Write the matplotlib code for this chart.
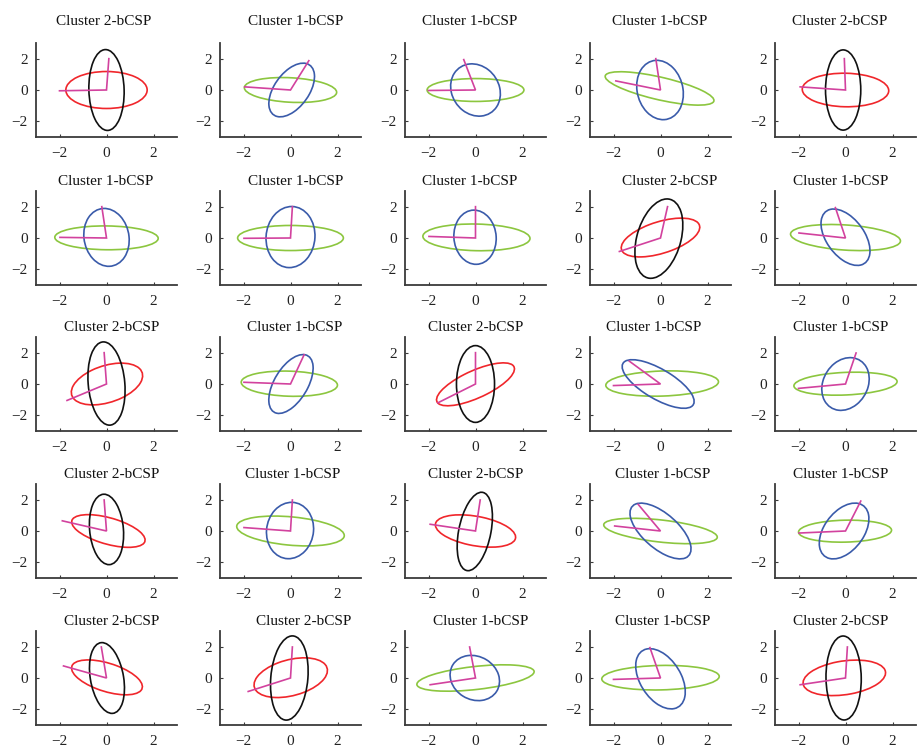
import matplotlib
matplotlib.use("Agg")
import matplotlib.pyplot as plt
from matplotlib.patches import Ellipse

plt.rcParams['font.family'] = ['Liberation Serif', 'DejaVu Serif']

# ---------------- data ----------------
cluster = [2, 1, 1, 1, 2,
           1, 1, 1, 2, 1,
           2, 1, 2, 1, 1,
           2, 1, 2, 1, 1,
           2, 2, 1, 1, 2]

# wide ellipse (red for cluster 2, green for cluster 1): semi-major, semi-minor, angle(deg), cx, cy
wide_a = [1.73, 1.97, 2.06, 2.45, 1.84, 2.20, 2.25, 2.28, 1.85, 2.35, 1.70, 2.05, 2.00, 2.40, 2.20,
          1.70, 2.31, 1.77, 2.45, 1.98, 1.67, 1.69, 2.53, 2.50, 1.80]
wide_b = [1.18, 0.78, 0.73, 0.70, 1.07, 0.76, 0.80, 0.85, 0.95, 0.80, 1.09, 0.80, 0.79, 0.80, 0.72,
          0.80, 0.90, 0.92, 0.70, 0.70, 0.85, 1.09, 0.73, 0.78, 1.06]
wide_ang = [0, -5, 0, -20, -2, -1, 0, -2, 30, -6, 36, -3, 37.5, 3, 4,
            -26.5, -8.5, -18, -10, 2, -30, 30, 10, 2, 16]
wide_cx = [0, 0, 0, -0.04, 0, 0, 0, 0.04, 0, 0, 0.02, -0.05, 0, 0.07, 0,
           0.08, 0, 0, 0, -0.02, 0.02, 0.01, 0, 0, -0.05]
wide_cy = [0, 0, 0, 0.10, 0, 0.01, 0, 0.04, 0.03, 0.03, 0, 0.02, -0.02, 0.03, 0.02,
           0, 0, 0, 0, -0.01, 0.04, 0.02, 0, 0.02, 0.01]

# tall ellipse (black for cluster 2, blue for cluster 1)
tall_a = [2.58, 1.80, 1.68, 1.90, 2.56, 1.85, 1.95, 1.73, 2.56, 1.89, 2.66, 1.96, 2.45, 2.02, 1.70,
          2.25, 1.80, 2.52, 2.02, 1.86, 2.27, 2.69, 1.46, 1.99, 2.68]
tall_b = [0.75, 0.80, 1.04, 0.98, 0.75, 0.96, 1.04, 0.90, 0.95, 0.87, 0.78, 0.76, 0.81, 0.82, 0.98,
          0.72, 1.00, 0.69, 0.88, 0.91, 0.71, 0.79, 1.03, 0.92, 0.75]
tall_ang = [91, 70, 98.5, 95.5, 90, 94, 88, 92, 81, 110, 93, 72, 90, -45.5, 80,
            93, 87, 83, 121.7, 70.7, 96, 87, 102, 107, 90.5]
tall_cx = [0, 0.05, 0, -0.02, -0.10, 0, 0, -0.02, -0.07, 0, 0, 0.02, 0, -0.10, 0,
           0, -0.02, -0.03, 0, -0.06, 0.02, -0.05, -0.03, 0, -0.08]
tall_cy = [0, 0, 0, 0, 0, 0.04, 0.06, 0.05, -0.04, 0.05, 0.03, 0, 0, 0, 0,
           0.10, 0.03, -0.03, 0, 0, 0, 0, 0, -0.05, 0]

# direction vectors drawn from the origin
v1x = [-2.00, -1.95, -2.00, -1.90, -1.93, -1.98, -1.98, -1.98, -1.75, -1.98, -1.68, -1.98, -1.60, -2.00, -2.00,
       -1.88, -1.98, -1.93, -1.95, -1.98, -1.83, -1.80, -1.93, -2.00, -1.93]
v1y = [-0.05, 0.20, -0.03, 0.58, 0.20, 0.04, -0.02, 0.10, -0.86, 0.32, -1.05, 0.11, -1.20, -0.10, -0.28,
       0.65, 0.22, 0.43, 0.32, -0.13, 0.77, -0.86, -0.43, -0.09, -0.43]
v2x = [0.10, 0.78, -0.50, -0.20, -0.05, -0.20, 0.08, 0.00, 0.30, -0.43, -0.10, 0.58, 0.00, -1.33, 0.45,
       -0.10, 0.08, 0.20, -0.95, 0.65, -0.22, 0.08, -0.25, -0.45, 0.08]
v2y = [2.00, 1.87, 1.94, 2.00, 2.00, 2.00, 2.00, 2.00, 2.00, 1.94, 2.00, 1.87, 2.00, 1.46, 1.98,
       1.98, 1.98, 1.98, 1.70, 1.91, 1.98, 1.98, 1.98, 1.94, 1.98]

ticks = [-2, 0, 2]
tick_labels = ['\u22122', '0', '2']

# ---------------- layout ----------------
W, H = 919, 751
fig = plt.figure(figsize=(W / 100, H / 100), dpi=100)
col_left = [36, 220, 405, 590, 775]
row_top = [43, 191, 337, 484, 631]
ax_w, ax_h = 141, 94
title_cx = [[104, 296, 470, 660, 840],
            [106, 296, 470, 670, 841],
            [112, 295, 476, 654, 841],
            [112, 293, 476, 663, 841],
            [112, 304, 481, 663, 841]]

colors = {2: ('#F0262B', '#111111'), 1: ('#8CC63F', '#3A5BAA')}
line_color = '#D2429E'
spine_color = '#3a3a3a'

for k in range(25):
    r, c = divmod(k, 5)
    l = col_left[c] / W
    b = 1 - (row_top[r] + ax_h) / H
    ax = fig.add_axes([l, b, ax_w / W, ax_h / H])
    ax.set_xlim(-3, 3)
    ax.set_ylim(-3, 3)
    cw, ct = colors[cluster[k]]
    ax.add_patch(Ellipse((wide_cx[k], wide_cy[k]), 2 * wide_a[k], 2 * wide_b[k], angle=wide_ang[k],
                         fill=False, edgecolor=cw, lw=1.2))
    ax.add_patch(Ellipse((tall_cx[k], tall_cy[k]), 2 * tall_a[k], 2 * tall_b[k], angle=tall_ang[k],
                         fill=False, edgecolor=ct, lw=1.2))
    ax.plot([v1x[k], 0, v2x[k]], [v1y[k], 0, v2y[k]], color=line_color, lw=1.2, solid_joinstyle='miter')
    for s in ['top', 'right']:
        ax.spines[s].set_visible(False)
    for s in ['left', 'bottom']:
        ax.spines[s].set_color(spine_color)
        ax.spines[s].set_linewidth(1.3)
    ax.set_xticks(ticks)
    ax.set_yticks(ticks)
    ax.set_xticklabels(tick_labels)
    ax.set_yticklabels(tick_labels)
    ax.tick_params(axis='both', direction='in', length=2.5, width=0.8, color=spine_color,
                   labelsize=11, labelcolor='#222222')
    ax.tick_params(axis='x', pad=7)
    ax.tick_params(axis='y', pad=6)
    # title
    tx = (title_cx[r][c] - col_left[c]) / ax_w
    pad = 13 if r == 0 else 4.5
    ax.set_title(f'Cluster {cluster[k]}-bCSP', fontsize=11, x=tx, pad=pad, color='#111111')

fig.savefig('out.png', dpi=100)
